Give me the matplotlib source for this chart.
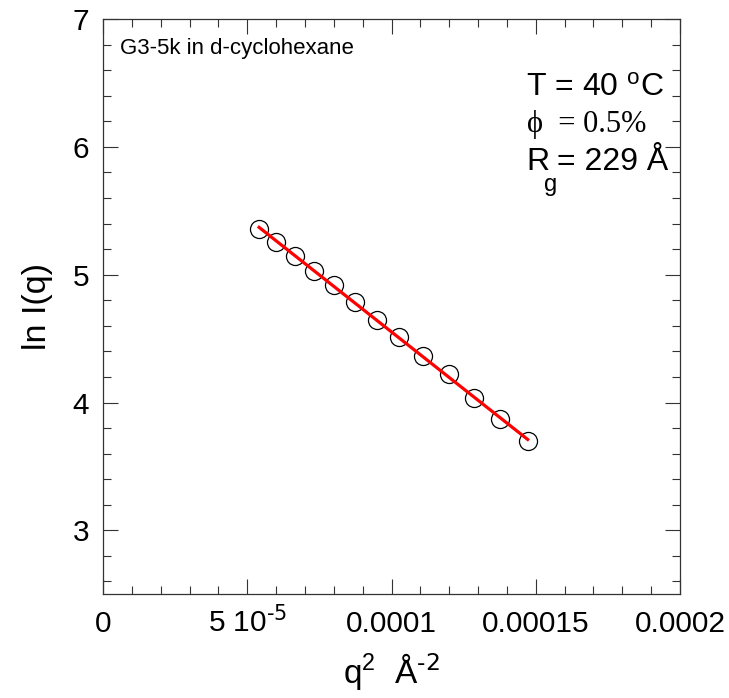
import numpy as np
import matplotlib
matplotlib.use("Agg")
import matplotlib.pyplot as plt
from matplotlib.ticker import MultipleLocator

plt.rcParams['font.family'] = ['Liberation Sans', 'DejaVu Sans']
plt.rcParams['mathtext.default'] = 'regular'

# data
q2 = [5.41e-5, 5.99e-5, 6.66e-5, 7.32e-5, 8.02e-5, 8.75e-5, 9.50e-5,
      1.027e-4, 1.109e-4, 1.198e-4, 1.287e-4, 1.377e-4, 1.472e-4]
lnI = [5.354, 5.255, 5.146, 5.028, 4.919, 4.786, 4.647,
       4.512, 4.363, 4.220, 4.032, 3.868, 3.698]

xticks = [0, 5e-5, 1e-4, 1.5e-4, 2e-4]
xticklabels = ['0', r'5 10$^{\text{-5}}$', '0.0001', '0.00015', '0.0002']
yticks = [3, 4, 5, 6, 7]
yticklabels = ['3', '4', '5', '6', '7']

fig = plt.figure(figsize=(7.29, 6.98), dpi=100)
ax = fig.add_axes([0.1413, 0.1486, 0.7915, 0.8242])

x = np.array(q2)
y = np.array(lnI)
coef = np.polyfit(x, y, 1)
xf = np.array([x.min(), x.max()])

ax.plot(x, y, linestyle='none', marker='o', markersize=13, markerfacecolor='none',
        markeredgecolor='black', markeredgewidth=0.9, zorder=2)
ax.plot(xf, np.polyval(coef, xf), color='#ff0000', linewidth=2.3, zorder=3)

ax.set_xlim(0, 2e-4)
ax.set_ylim(2.5, 7)
ax.set_xticks(xticks)
ax.set_xticklabels(xticklabels)
ax.set_yticks(yticks)
ax.set_yticklabels(yticklabels)
ax.xaxis.set_minor_locator(MultipleLocator(1e-5))
ax.yaxis.set_minor_locator(MultipleLocator(0.2))
ax.tick_params(which='both', direction='in', top=True, right=True,
               labelsize=21.5, width=0.8, colors='#333333', labelcolor='black')
ax.tick_params(which='major', length=11, pad=10)
ax.tick_params(axis='x', which='major', pad=27)
ax.tick_params(which='minor', length=6)
for lab in ax.get_xticklabels():
    lab.set_verticalalignment('baseline')
for s in ax.spines.values():
    s.set_linewidth(0.9)
    s.set_color('#333333')

ax.set_xlabel(r'q$^2$  Å$^{\text{-2}}$', fontsize=24, labelpad=10)
ax.set_ylabel('ln I(q)', fontsize=24.5, labelpad=14)

ax.text(0.03, 0.948, 'G3-5k in d-cyclohexane', transform=ax.transAxes,
        fontsize=16, va='center', ha='left')
ax.text(0.733, 0.88, 'T = 40 $^o$C', transform=ax.transAxes,
        fontsize=23, va='center', ha='left')
ax.text(0.735, 0.817, 'ϕ  = 0.5%', transform=ax.transAxes,
        fontsize=22, va='center', ha='left', family=['Liberation Serif', 'DejaVu Sans'])
ax.text(0.733, 0.752, 'R', transform=ax.transAxes,
        fontsize=23, va='center', ha='left')
ax.text(0.764, 0.712, 'g', transform=ax.transAxes,
        fontsize=17, va='center', ha='left')
ax.text(0.786, 0.752, '= 229 Å', transform=ax.transAxes,
        fontsize=23, va='center', ha='left')

fig.savefig('out.png', dpi=100)
